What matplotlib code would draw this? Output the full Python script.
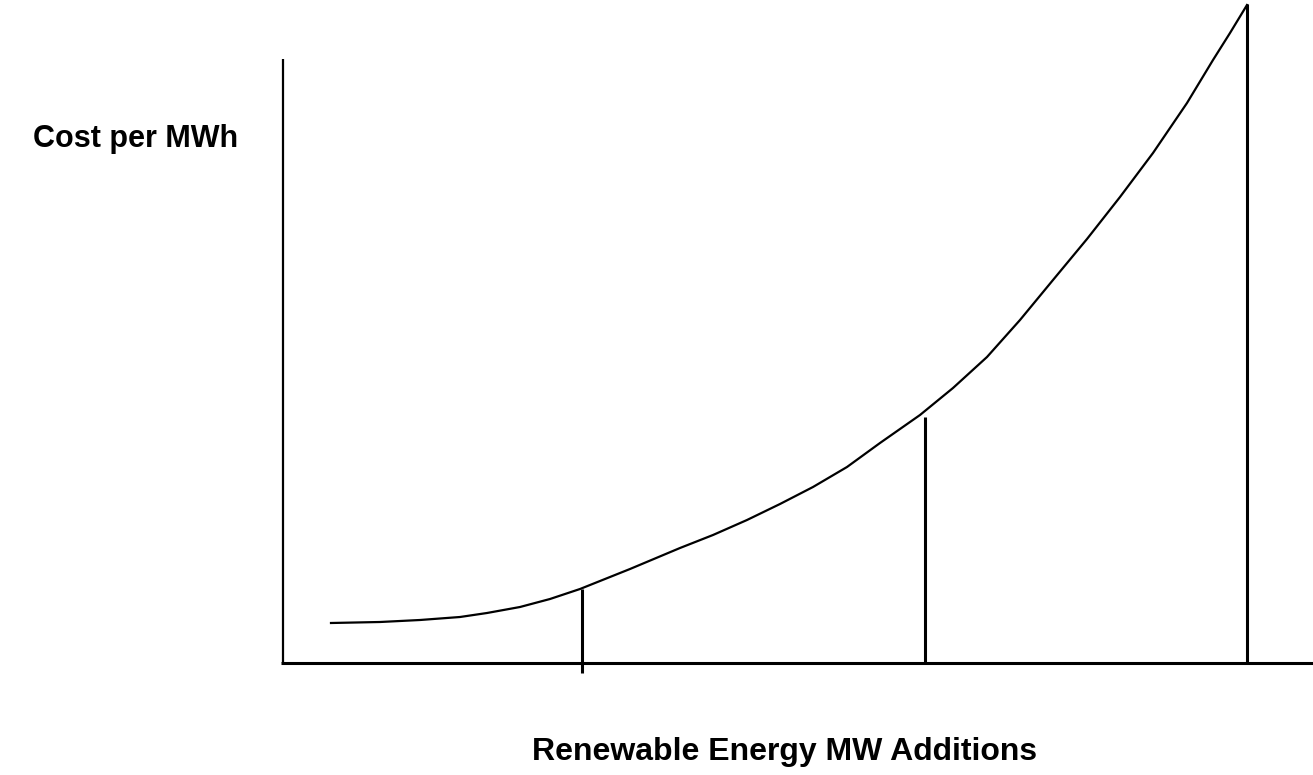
import matplotlib
matplotlib.use('Agg')
import matplotlib.pyplot as plt
import numpy as np

plt.rcParams['font.family'] = ['Liberation Sans', 'DejaVu Sans']

# supply curve (MW additions vs cost)
mw = np.array([48, 97, 137, 177, 204, 237, 267, 297, 347, 397, 430, 464, 497, 530,
               564, 597, 637, 670, 704, 737, 770, 804, 837, 870, 887, 904, 930, 947, 964])
cost = np.array([40, 41, 43, 46, 50, 56, 64, 74, 94, 115, 128, 143, 159, 176,
                 196, 220, 248, 275, 306, 343, 383, 424, 466, 510, 535, 560, 603, 630, 658])

# drop lines from the curve to the x axis
step_x = [299, 642, 964]
step_top = [74, 246, 659]
step_bottom = [-10, 0, 0]

y_label = 'Cost per MWh'
x_label = 'Renewable Energy MW Additions'

fig = plt.figure(figsize=(13.13, 7.75), dpi=100)
ax = fig.add_axes([0, 0, 1, 1])
ax.set_axis_off()
ax.set_xlim(-283, 1030)
ax.set_ylim(-112, 663)

# axes drawn by hand
ax.plot([0, 0], [0, 604], color='black', lw=1.6, solid_capstyle='butt')
ax.plot([-2, 1030], [0, 0], color='black', lw=2.2, solid_capstyle='butt')

ax.plot(mw, cost, color='black', lw=1.6, solid_joinstyle='round')
ax.vlines(step_x, step_bottom, step_top, color='black', lw=2.2)

ax.text(-45, 516, y_label, fontsize=22, fontweight='bold', ha='right', va='baseline')
ax.text(502, -97, x_label, fontsize=23, fontweight='bold', ha='center', va='baseline')

plt.savefig('out.png', dpi=100)
